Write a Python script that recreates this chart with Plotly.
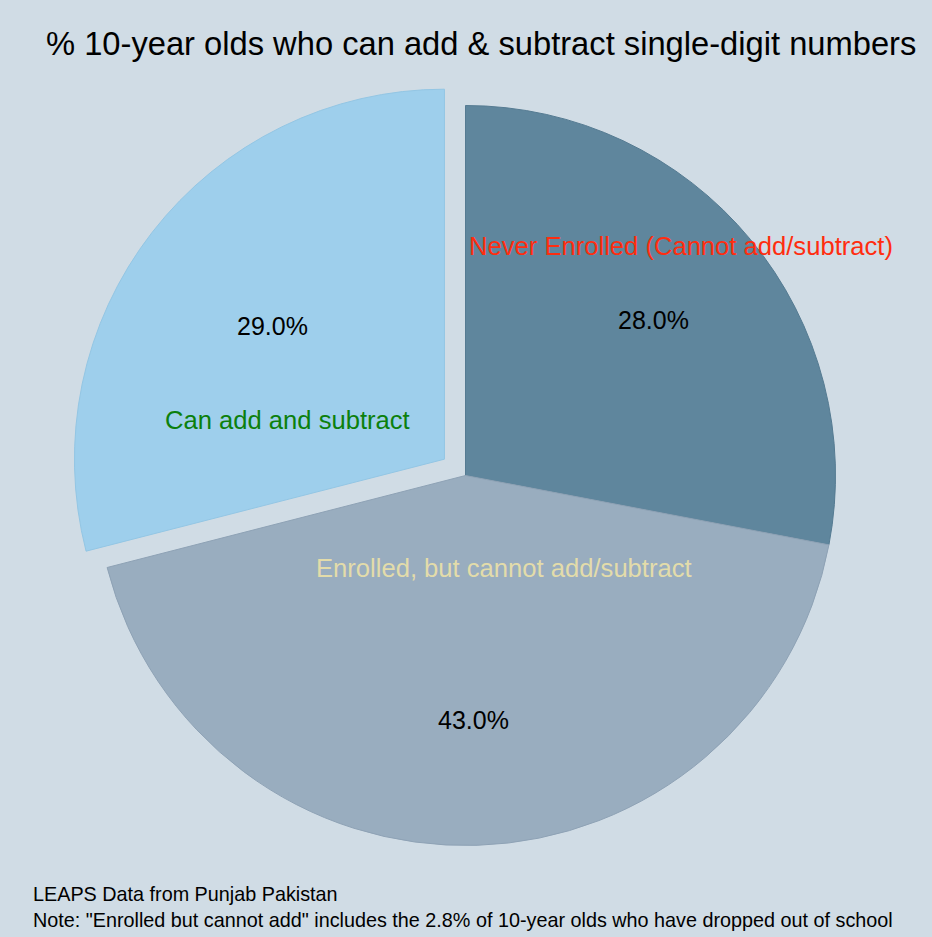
import math
import plotly.graph_objects as go

# ---- data ----
categories = ["Never Enrolled (Cannot add/subtract)",
              "Enrolled, but cannot add/subtract",
              "Can add and subtract"]
shares = [28.0, 43.0, 29.0]
pulls = [0, 0, 0.072]

title_text = "% 10-year olds who can add & subtract single-digit numbers"
note_lines = ["LEAPS Data from Punjab Pakistan",
              "Note: \"Enrolled but cannot add\" includes the 2.8% of 10-year olds who have dropped out of school"]

# ---- styles ----
W, H = 932, 937
bg = "#d0dce5"
slice_colors = ["#5f869d", "#99adbf", "#9ecfec"]
line_colors = ["#557b92", "#8ea2b5", "#93c6e4"]
label_colors = ["#ff2d0f", "#e3dcaa", "#0c800c"]
# label placement: (angle in degrees clockwise from top, radius fraction)
label_place = [(43.3, 0.851), (157.5, 0.272), (287.4, 0.505)]
pct_radius = 0.66

# pie geometry in pixels
cx, cy, r = 465.5, 475.5, 370.0
half = r * (1 + max(pulls))
dom_x = [(cx - half) / W, (cx + half) / W]
dom_y = [1 - (cy + half) / H, 1 - (cy - half) / H]

fig = go.Figure(go.Pie(
    labels=categories, values=shares, pull=pulls, sort=False,
    direction="clockwise", rotation=0, textinfo="none", hoverinfo="label+percent",
    marker=dict(colors=slice_colors, line=dict(color=line_colors, width=1)),
    domain=dict(x=dom_x, y=dom_y), showlegend=False,
))

def to_paper(ang_deg, frac):
    a = math.radians(ang_deg)
    px = cx + frac * r * math.sin(a)
    py = cy - frac * r * math.cos(a)
    return px / W, 1 - py / H

annotations = []
total = sum(shares)
cum = 0.0
for i, v in enumerate(shares):
    mid = (cum + v / 2) / total * 360.0
    cum += v
    x, y = to_paper(mid, pct_radius)
    annotations.append(dict(x=x, y=y, xref="paper", yref="paper", showarrow=False,
                            text=f"{v / total * 100:.1f}%", xanchor="center", yanchor="middle",
                            font=dict(family="Liberation Sans, Arial", size=25, color="black")))
    ang, fr = label_place[i]
    x, y = to_paper(ang, fr)
    annotations.append(dict(x=x, y=y, xref="paper", yref="paper", showarrow=False,
                            text=categories[i], xanchor="center", yanchor="middle",
                            font=dict(family="Liberation Sans, Arial", size=25.6, color=label_colors[i])))

annotations.append(dict(x=481 / W, y=1 - 43 / H, xref="paper", yref="paper", showarrow=False,
                        text=title_text, xanchor="center", yanchor="middle",
                        font=dict(family="Liberation Sans, Arial", size=32.7, color="black")))
annotations.append(dict(x=31 / W, y=1 - 907 / H, xref="paper", yref="paper", showarrow=False,
                        text="<br>".join(note_lines), xanchor="left", yanchor="middle", align="left",
                        font=dict(family="Liberation Sans, Arial", size=19.8, color="black")))

fig.update_layout(width=W, height=H, margin=dict(l=0, r=0, t=0, b=0),
                  paper_bgcolor=bg, plot_bgcolor=bg, annotations=annotations)

fig.write_html("out.html", config={"displayModeBar": False},
               post_script="document.body.style.margin='0';document.body.style.overflow='hidden';")
